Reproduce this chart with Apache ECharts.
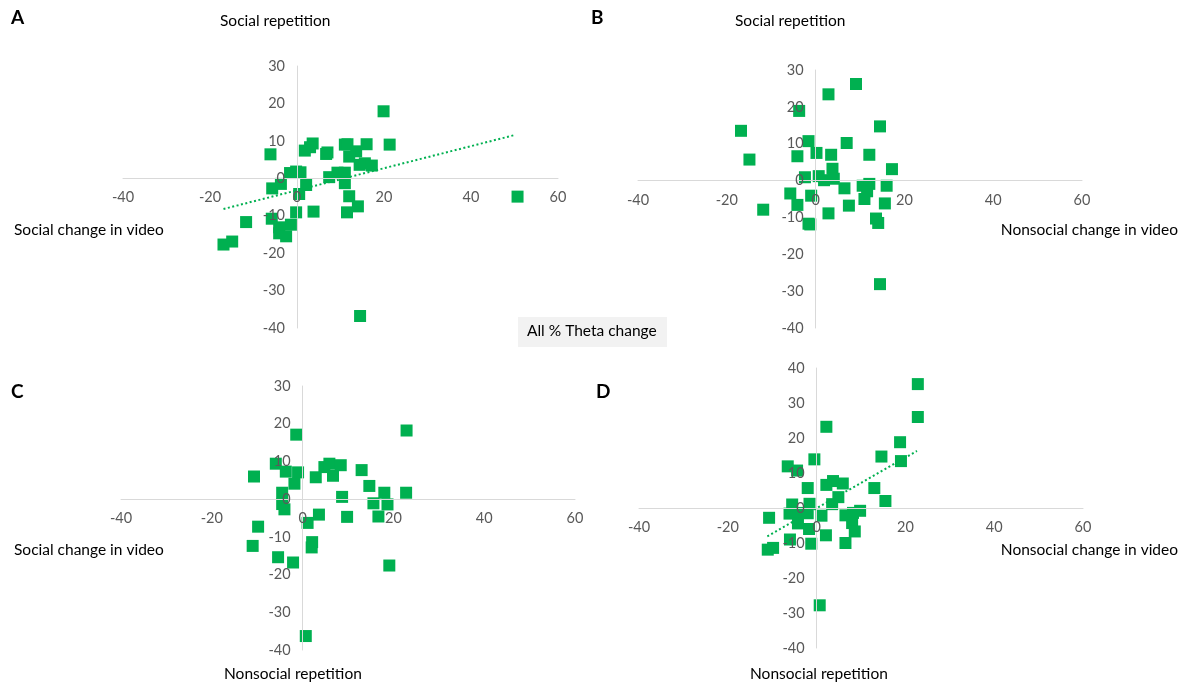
<!DOCTYPE html>
<html><head><meta charset="utf-8">
<script src="https://cdn.jsdelivr.net/npm/echarts@6/dist/echarts.min.js"></script>
<style>html,body{margin:0;padding:0;background:#fff}#c{width:1192px;height:687px}</style>
</head><body><div id="c"></div>
<script>
// Panel A: Social repetition vs Social change in video
const pointsA = [
 [19.9,17.9],[-6.1,6.4],[3.6,9.3],[3.0,8.3],[1.8,7.4],[6.7,6.5],[7.0,6.9],[11.0,9.0],[11.6,9.1],
 [16.0,9.1],[21.3,9.0],[13.6,7.2],[12.0,5.8],[14.4,3.6],[15.6,4.0],[17.2,3.4],[-1.6,1.4],[-0.2,1.8],
 [0.8,1.6],[7.4,0.3],[9.3,1.5],[11.0,1.5],[11.0,-1.3],[-3.7,-1.5],[-5.7,-2.7],[2.1,-1.8],[0.5,-4.2],
 [12.0,-4.8],[50.7,-4.9],[14.0,-7.5],[3.8,-8.9],[-0.2,-9.1],[11.5,-9.1],[-11.7,-11.7],[-5.8,-10.8],
 [-1.4,-12.4],[-4.1,-13.1],[-4.1,-14.7],[-2.5,-15.5],[-16.9,-17.7],[-14.9,-16.9],[14.5,-36.8]
];
const trendA = [[-16.9,-8.2],[50.2,11.6]];
// Panel B: Social repetition vs Nonsocial change in video
const pointsB = [
 [9.1,26.2],[2.9,23.4],[-3.7,18.9],[-16.8,13.5],[14.5,14.7],[-1.6,10.7],[7.0,10.2],[-14.9,5.7],
 [-4.1,6.6],[0.2,7.5],[3.5,7.0],[12.1,7.0],[17.2,3.1],[3.8,3.2],[-2.4,0.9],[0.7,1.2],[1.9,0.1],
 [4.1,0.5],[6.5,-2.1],[10.6,-1.4],[12.1,-0.9],[11.6,-2.9],[16.0,-1.4],[-5.7,-3.5],[-1.0,-4.1],
 [11.0,-5.0],[-4.1,-6.6],[7.5,-6.8],[15.6,-6.2],[-11.8,-7.9],[2.9,-8.9],[13.6,-10.3],[14.1,-11.5],
 [-1.6,-11.7],[-1.2,-11.9],[14.5,-28.1]
];
// Panel C: Nonsocial repetition vs Social change in video
const pointsC = [
 [22.9,18.2],[-1.4,17.1],[-5.9,9.4],[-10.7,6.0],[-3.7,7.3],[-1.0,7.1],[-1.8,4.1],[2.9,5.8],
 [4.8,8.5],[5.9,9.4],[6.7,6.2],[8.4,9.0],[13.0,7.7],[14.7,3.5],[18.0,1.7],[22.8,1.7],[8.7,0.6],
 [-4.5,1.7],[-4.5,-1.3],[-4.0,-2.7],[15.6,-1.1],[18.7,-1.4],[3.6,-4.1],[9.8,-4.7],[16.7,-4.6],
 [1.1,-6.3],[-9.8,-7.3],[2.1,-11.4],[2.0,-12.8],[-11.0,-12.4],[-5.4,-15.4],[-2.1,-16.8],
 [19.1,-17.6],[0.7,-36.3]
];
// Panel D: Nonsocial repetition vs Nonsocial change in video
const pointsD = [
 [22.8,35.4],[22.8,26.0],[18.8,18.8],[19.0,13.4],[14.6,14.7],[2.2,23.2],[-0.5,13.9],[-6.5,11.9],
 [-4.4,10.7],[-2.0,5.7],[2.2,6.6],[3.7,7.7],[5.9,7.0],[4.9,3.1],[3.5,1.1],[13.0,5.7],[15.5,2.0],
 [-5.5,1.0],[-1.6,1.2],[-6.1,-1.6],[-4.1,-1.4],[-2.0,-1.5],[1.1,-2.2],[-10.7,-2.8],[6.5,-2.1],
 [9.8,-0.8],[8.2,-1.4],[-4.2,-4.4],[8.0,-4.3],[-1.7,-6.0],[8.6,-6.7],[2.1,-7.8],[-6.0,-9.0],
 [-1.2,-10.2],[6.5,-10.0],[-11.0,-11.9],[-9.8,-11.4],[0.7,-27.8]
];
const trendD = [[-11.1,-8.1],[22.6,16.3]];
const xTicks = {min:-40, max:60, interval:20};
const yTicksABC = {min:-40, max:30, interval:10};
const yTicksD = {min:-40, max:40, interval:10};

const GREEN = '#00B050';
const FONT = 'Lato, "Open Sans", sans-serif';
const grids = [
  {left:123, top:66, width:435, height:262},
  {left:638, top:70, width:444, height:258},
  {left:121, top:386, width:454, height:264},
  {left:639, top:368, width:444, height:280}
];
const yRanges = [yTicksABC, yTicksABC, yTicksABC, yTicksD];
const axisLabel = {color:'#595959', fontSize:14.5, fontFamily:FONT, hideOverlap:false};
const axisLine = {onZero:false, lineStyle:{color:'#d9d9d9', width:1}};
// place each axis at the other axis's zero by offsetting it from the grid edge
const xAxis = grids.map((g,i)=>({type:'value', gridIndex:i, position:'bottom', z:10,
  offset: -g.height*(0-yRanges[i].min)/(yRanges[i].max-yRanges[i].min),
  min:xTicks.min, max:xTicks.max, interval:xTicks.interval,
  axisLine, axisTick:{show:false}, splitLine:{show:false}, axisLabel:{...axisLabel, margin:12}}));
const yAxis = grids.map((g,i)=>({type:'value', gridIndex:i, position:'left', z:10,
  offset: -g.width*(0-xTicks.min)/(xTicks.max-xTicks.min),
  min:yRanges[i].min, max:yRanges[i].max, interval:yRanges[i].interval,
  axisLine, axisTick:{show:false}, splitLine:{show:false}, axisLabel:{...axisLabel, margin:12}}));
const scatter = (data,i)=>({type:'scatter', xAxisIndex:i, yAxisIndex:i, data, symbol:'rect', symbolSize:12,
  itemStyle:{color:GREEN, opacity:1}, z:2});
const trend = (data,i)=>({type:'line', xAxisIndex:i, yAxisIndex:i, data, symbol:'none',
  lineStyle:{color:GREEN, width:2, type:[2,2.5]}, z:3, silent:true});
const txt = (text,x,y,opts={})=>({type:'text', left:x, top:y, style:{text, fill:opts.fill||'#000',
  font:(opts.weight||'normal')+' '+(opts.size||15.5)+'px '+FONT}});
const txtR = (text,x,y)=>({type:'text', right:1192-x, top:y, style:{text, fill:'#000', font:'normal 15.5px '+FONT}});
const chart = echarts.init(document.getElementById('c'), null, {renderer:'canvas'});
chart.setOption({
  animation:false,
  grid: grids,
  xAxis, yAxis,
  series:[scatter(pointsA,0), trend(trendA,0), scatter(pointsB,1), scatter(pointsC,2), scatter(pointsD,3), trend(trendD,3)],
  graphic:[
    txt('A',11,8,{weight:'bold',size:19}),
    txt('B',591,8,{weight:'bold',size:19}),
    txt('C',11,382,{weight:'bold',size:19}),
    txt('D',596,382,{weight:'bold',size:19}),
    txt('Social repetition',220,13),
    txt('Social repetition',735,13),
    txt('Social change in video',14,222),
    txtR('Nonsocial change in video',1178,222),
    txt('Social change in video',14,542),
    txtR('Nonsocial change in video',1178,542),
    txt('Nonsocial repetition',224,666),
    txt('Nonsocial repetition',750,666),
    {type:'rect', left:518, top:317, shape:{width:149, height:30}, style:{fill:'#f2f2f2'}},
    txt('All % Theta change',527,323)
  ]
});
</script></body></html>
